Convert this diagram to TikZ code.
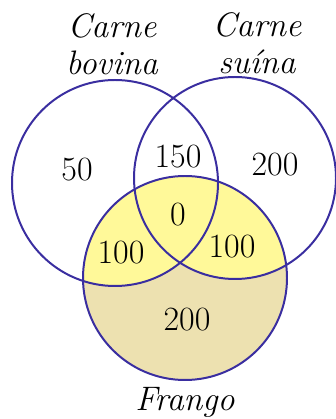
\documentclass[tikz,border=0pt]{standalone}
\usepackage{amsmath,amssymb}
\usepackage{tikz}

\definecolor{vennline}{RGB}{58,46,160}
\definecolor{vennyellow}{RGB}{255,249,153}
\definecolor{venntan}{RGB}{237,225,176}

\begin{document}
\begin{tikzpicture}[x=0.03cm, y=0.03cm,
    ring/.style={draw=vennline, line width=1.7pt},
    num/.style={font=\fontsize{29}{32}\selectfont, inner sep=0pt},
    setlabel/.style={font=\fontsize{29}{31.5}\selectfont\itshape, align=center, inner sep=0pt}]
        \useasboundingbox (0,0) rectangle (336,419);

        % Centres of the three sets
        \coordinate (bovina_c) at (115, 236);
        \coordinate (suina_c) at (235, 241);
        \coordinate (frango_c) at (185, 141);

        % Chicken set, then its overlaps
        \fill[venntan] (frango_c) circle (102);
        \begin{scope}
          \clip (frango_c) circle (102);
          \fill[vennyellow] (bovina_c) circle (103);
          \fill[vennyellow] (suina_c) circle (101);
        \end{scope}

        % Outlines
        \draw[ring] (bovina_c) circle (103);
        \draw[ring] (suina_c) circle (101);
        \draw[ring] (frango_c) circle (102);

        % Set names
        \node[setlabel] (bovina_lbl) at (112, 375) {Carne\\bovina};
        \node[setlabel] (suina_lbl) at (257, 376) {Carne\\su\'{\i}na};
        \node[setlabel, anchor=base] (frango_lbl) at (185, 9) {Frango};

        % Counts
        \node[num] (only_bov) at (77, 249) {50};
        \node[num] (bov_sui) at (178, 262) {150};
        \node[num] (only_sui) at (275, 254) {200};
        \node[num] (all_three) at (178, 204) {0};
        \node[num] (bov_fra) at (121, 166) {100};
        \node[num] (sui_fra) at (232, 172) {100};
        \node[num] (only_fra) at (187, 99) {200};
      \end{tikzpicture}
\end{document}
